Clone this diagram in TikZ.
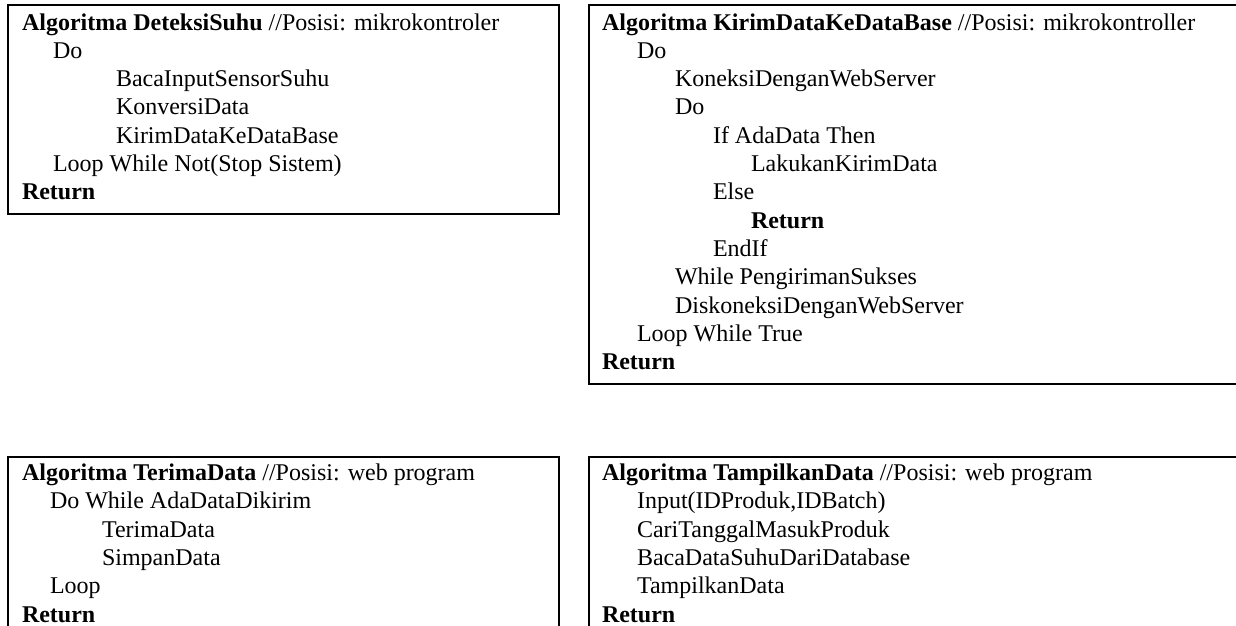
\documentclass[tikz,border=0pt]{standalone}
\usepackage{fontspec}
\setmainfont{Liberation Serif}
\begin{document}
\begin{tikzpicture}[x=1pt,y=-1pt,
  frame/.style={draw=black,line width=2pt},
  codeline/.style={anchor=base west,inner sep=0pt,outer sep=0pt,
    font=\fontsize{24}{28}\selectfont}]
\useasboundingbox (0,0) rectangle (1236,625);

% frames of the four algorithm boxes
\draw[frame] (8,5) rectangle (559,214);
\draw[frame] (1260,5) -- (589,5) -- (589,384) -- (1260,384);
\draw[frame] (8,650) -- (8,457) -- (559,457) -- (559,650);
\draw[frame] (1260,457) -- (589,457) -- (589,650);

% Algoritma DeteksiSuhu
\foreach \ind/\txt [count=\i] in {
  0/{\textbf{Algoritma DeteksiSuhu} //Posisi: mikrokontroler},
  31/Do,
  94/BacaInputSensorSuhu,
  94/KonversiData,
  94/KirimDataKeDataBase,
  31/Loop While Not(Stop Sistem),
  0/\textbf{Return}}
  \node[codeline] (a\i) at (22+\ind,30+28.3*\i-28.3) {\txt};

% Algoritma KirimDataKeDataBase
\foreach \ind/\txt [count=\i] in {
  0/{\textbf{Algoritma KirimDataKeDataBase} //Posisi: mikrokontroller},
  35/Do,
  73/KoneksiDenganWebServer,
  73/Do,
  111/If AdaData Then,
  149/LakukanKirimData,
  111/Else,
  149/\textbf{Return},
  111/EndIf,
  73/While PengirimanSukses,
  73/DiskoneksiDenganWebServer,
  35/Loop While True,
  0/\textbf{Return}}
  \node[codeline] (b\i) at (602+\ind,30+28.3*\i-28.3) {\txt};

% Algoritma TerimaData
\foreach \ind/\txt [count=\i] in {
  0/{\textbf{Algoritma TerimaData} //Posisi: web program},
  28/Do While AdaDataDikirim,
  80/TerimaData,
  80/SimpanData,
  28/Loop,
  0/\textbf{Return}}
  \node[codeline] (c\i) at (22+\ind,480.5+28.3*\i-28.3) {\txt};

% Algoritma TampilkanData
\foreach \ind/\txt [count=\i] in {
  0/{\textbf{Algoritma TampilkanData} //Posisi: web program},
  35/{Input(IDProduk,IDBatch)},
  35/CariTanggalMasukProduk,
  35/BacaDataSuhuDariDatabase,
  35/TampilkanData,
  0/\textbf{Return}}
  \node[codeline] (d\i) at (602+\ind,480.5+28.3*\i-28.3) {\txt};
\end{tikzpicture}
\end{document}
